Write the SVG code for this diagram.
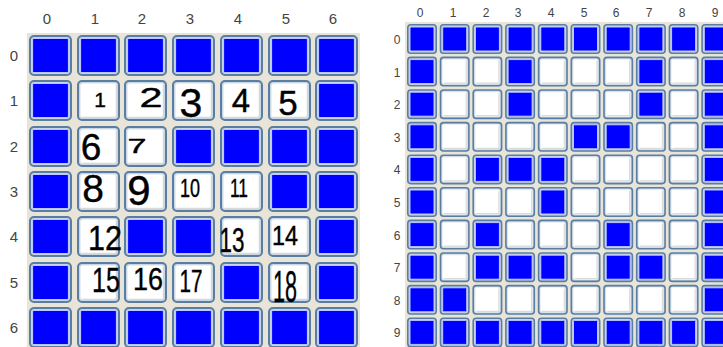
<svg xmlns="http://www.w3.org/2000/svg" xmlns:xlink="http://www.w3.org/1999/xlink" width="723" height="347" viewBox="0 0 723 347">
<style>
.lbl{font-family:"Liberation Sans",Arial,sans-serif;fill:#444;text-anchor:middle}
.ll{font-size:15px}
.rl{font-size:12px}
.hw{font-family:"Liberation Sans",Arial,sans-serif;fill:#000;stroke:#000;stroke-width:0.4;text-anchor:middle}
</style>
<defs>
<g id="LW">
<rect x="1" y="1" width="41" height="39" rx="4" fill="#c9d6e3" stroke="#5a7ea2" stroke-width="2"/>
<rect x="3.5" y="3.5" width="36" height="34" rx="2" fill="#ffffff" stroke="#e9eef3" stroke-width="1"/>
<path d="M5 37.5H39.5V5" fill="none" stroke="#d8d8d8" stroke-width="1.5"/>
</g>
<g id="LB">
<rect x="1" y="1" width="41" height="39" rx="4" fill="#c9d6e3" stroke="#5a7ea2" stroke-width="2"/>
<rect x="3.5" y="3.5" width="36" height="34" rx="1" fill="#0000ff" stroke="#b8c4ff" stroke-width="1.2"/>
</g>
<g id="RW">
<rect x="0.8" y="0.8" width="28.4" height="28.4" rx="3" fill="#c9d6e3" stroke="#5a7ea2" stroke-width="1.6"/>
<rect x="2.8" y="2.8" width="24.4" height="24.4" rx="1.5" fill="#ffffff" stroke="#eef2f6" stroke-width="0.8"/>
<path d="M4 26.5H26.5V4" fill="none" stroke="#dadada" stroke-width="1.2"/>
</g>
<g id="RB">
<rect x="0.8" y="0.8" width="28.4" height="28.4" rx="3" fill="#c9d6e3" stroke="#5a7ea2" stroke-width="1.6"/>
<rect x="3" y="3" width="24" height="24" rx="1" fill="#0000ff" stroke="#b8c4ff" stroke-width="1"/>
</g>
</defs>
<rect width="723" height="347" fill="#ffffff"/>
<rect x="27" y="33" width="333" height="314" fill="#e8e5d8"/>
<rect x="405" y="22" width="318" height="325" fill="#e8e5d8"/>

<g id="left-col-labels" class="lbl ll">
<text x="47" y="24">0</text><text x="95" y="24">1</text><text x="142" y="24">2</text><text x="190" y="24">3</text><text x="238" y="24">4</text><text x="286" y="24">5</text><text x="333" y="24">6</text>
</g>
<g id="left-row-labels" class="lbl ll">
<text x="14" y="61">0</text><text x="14" y="106">1</text><text x="14" y="152">2</text><text x="14" y="197">3</text><text x="14" y="242">4</text><text x="14" y="288">5</text><text x="14" y="333">6</text>
</g>

<g id="left-grid">
<g id="L0-0"><use href="#LB" x="29" y="35"/></g>
<g id="L0-1"><use href="#LB" x="77" y="35"/></g>
<g id="L0-2"><use href="#LB" x="124" y="35"/></g>
<g id="L0-3"><use href="#LB" x="172" y="35"/></g>
<g id="L0-4"><use href="#LB" x="220" y="35"/></g>
<g id="L0-5"><use href="#LB" x="268" y="35"/></g>
<g id="L0-6"><use href="#LB" x="315" y="35"/></g>

<g id="L1-0"><use href="#LB" x="29" y="80"/></g>
<g id="L1-1"><use href="#LW" x="77" y="80"/><text class="hw" x="100" y="107" font-size="21">1</text></g>
<g id="L1-2"><use href="#LW" x="124" y="80"/><text class="hw" x="151" y="107" font-size="27" textLength="23" lengthAdjust="spacingAndGlyphs">2</text></g>
<g id="L1-3"><use href="#LW" x="172" y="80"/><text class="hw" x="191" y="117" font-size="41">3</text></g>
<g id="L1-4"><use href="#LW" x="220" y="80"/><text class="hw" x="241" y="112" font-size="33">4</text></g>
<g id="L1-5"><use href="#LW" x="268" y="80"/><text class="hw" x="288" y="115" font-size="35">5</text></g>
<g id="L1-6"><use href="#LB" x="315" y="80"/></g>

<g id="L2-0"><use href="#LB" x="29" y="126"/></g>
<g id="L2-1"><use href="#LW" x="77" y="126"/><text class="hw" x="91" y="160" font-size="37">6</text></g>
<g id="L2-2"><use href="#LW" x="124" y="126"/><text class="hw" x="137" y="153" font-size="21" textLength="19" lengthAdjust="spacingAndGlyphs">7</text></g>
<g id="L2-3"><use href="#LB" x="172" y="126"/></g>
<g id="L2-4"><use href="#LB" x="220" y="126"/></g>
<g id="L2-5"><use href="#LB" x="268" y="126"/></g>
<g id="L2-6"><use href="#LB" x="315" y="126"/></g>

<g id="L3-0"><use href="#LB" x="29" y="171"/></g>
<g id="L3-1"><use href="#LW" x="77" y="171"/><text class="hw" x="93" y="202" font-size="39">8</text></g>
<g id="L3-2"><use href="#LW" x="124" y="171"/><text class="hw" x="139" y="205" font-size="42">9</text></g>
<g id="L3-3"><use href="#LW" x="172" y="171"/><text class="hw" x="190" y="197" font-size="26" textLength="20" lengthAdjust="spacingAndGlyphs">10</text></g>
<g id="L3-4"><use href="#LW" x="220" y="171"/><text class="hw" x="239" y="197" font-size="26" textLength="18" lengthAdjust="spacingAndGlyphs">11</text></g>
<g id="L3-5"><use href="#LB" x="268" y="171"/></g>
<g id="L3-6"><use href="#LB" x="315" y="171"/></g>

<g id="L4-0"><use href="#LB" x="29" y="216"/></g>
<g id="L4-1"><use href="#LW" x="77" y="216"/></g>
<g id="L4-2"><use href="#LB" x="124" y="216"/></g>
<g id="L4-3"><use href="#LB" x="172" y="216"/></g>
<g id="L4-4"><use href="#LW" x="220" y="216"/></g>
<g id="L4-5"><use href="#LW" x="268" y="216"/><text class="hw" x="285" y="245" font-size="28" textLength="26" lengthAdjust="spacingAndGlyphs">14</text></g>
<g id="L4-6"><use href="#LB" x="315" y="216"/></g>

<g id="L5-0"><use href="#LB" x="29" y="262"/></g>
<g id="L5-1"><use href="#LW" x="77" y="262"/></g>
<g id="L5-2"><use href="#LW" x="124" y="262"/><text class="hw" x="148" y="290" font-size="32" textLength="30" lengthAdjust="spacingAndGlyphs">16</text></g>
<g id="L5-3"><use href="#LW" x="172" y="262"/><text class="hw" x="191" y="292" font-size="31" textLength="23" lengthAdjust="spacingAndGlyphs">17</text></g>
<g id="L5-4"><use href="#LB" x="220" y="262"/></g>
<g id="L5-5"><use href="#LW" x="268" y="262"/><text class="hw" x="285" y="302" font-size="44" textLength="24" lengthAdjust="spacingAndGlyphs">18</text></g>
<g id="L5-6"><use href="#LB" x="315" y="262"/></g>

<g id="L6-0"><use href="#LB" x="29" y="307"/></g>
<g id="L6-1"><use href="#LB" x="77" y="307"/></g>
<g id="L6-2"><use href="#LB" x="124" y="307"/></g>
<g id="L6-3"><use href="#LB" x="172" y="307"/></g>
<g id="L6-4"><use href="#LB" x="220" y="307"/></g>
<g id="L6-5"><use href="#LB" x="268" y="307"/></g>
<g id="L6-6"><use href="#LB" x="315" y="307"/></g>

<g id="L-overflow-numbers">
<text class="hw" x="105" y="250" font-size="35" textLength="34" lengthAdjust="spacingAndGlyphs">12</text>
<text class="hw" x="232" y="252" font-size="35" textLength="25" lengthAdjust="spacingAndGlyphs">13</text>
<text class="hw" x="106" y="292" font-size="35" textLength="28" lengthAdjust="spacingAndGlyphs">15</text>
</g>
</g>

<g id="right-col-labels" class="lbl rl">
<text x="420" y="17">0</text><text x="453" y="17">1</text><text x="486" y="17">2</text><text x="518" y="17">3</text><text x="551" y="17">4</text><text x="584" y="17">5</text><text x="616" y="17">6</text><text x="649" y="17">7</text><text x="682" y="17">8</text><text x="715" y="17">9</text>
</g>
<g id="right-row-labels" class="lbl rl">
<text x="397" y="44">0</text><text x="397" y="77">1</text><text x="397" y="109">2</text><text x="397" y="142">3</text><text x="397" y="174">4</text><text x="397" y="207">5</text><text x="397" y="240">6</text><text x="397" y="272">7</text><text x="397" y="305">8</text><text x="397" y="337">9</text>
</g>

<g id="right-grid">
<g id="R0-0"><use href="#RB" x="407" y="24"/></g><g id="R0-1"><use href="#RB" x="439.7" y="24"/></g><g id="R0-2"><use href="#RB" x="472.4" y="24"/></g><g id="R0-3"><use href="#RB" x="505.1" y="24"/></g><g id="R0-4"><use href="#RB" x="537.8" y="24"/></g><g id="R0-5"><use href="#RB" x="570.5" y="24"/></g><g id="R0-6"><use href="#RB" x="603.2" y="24"/></g><g id="R0-7"><use href="#RB" x="635.9" y="24"/></g><g id="R0-8"><use href="#RB" x="668.6" y="24"/></g><g id="R0-9"><use href="#RB" x="701.3" y="24"/></g>

<g id="R1-0"><use href="#RB" x="407" y="56.6"/></g><g id="R1-1"><use href="#RW" x="439.7" y="56.6"/></g><g id="R1-2"><use href="#RW" x="472.4" y="56.6"/></g><g id="R1-3"><use href="#RB" x="505.1" y="56.6"/></g><g id="R1-4"><use href="#RW" x="537.8" y="56.6"/></g><g id="R1-5"><use href="#RW" x="570.5" y="56.6"/></g><g id="R1-6"><use href="#RW" x="603.2" y="56.6"/></g><g id="R1-7"><use href="#RB" x="635.9" y="56.6"/></g><g id="R1-8"><use href="#RW" x="668.6" y="56.6"/></g><g id="R1-9"><use href="#RB" x="701.3" y="56.6"/></g>

<g id="R2-0"><use href="#RB" x="407" y="89.2"/></g><g id="R2-1"><use href="#RW" x="439.7" y="89.2"/></g><g id="R2-2"><use href="#RW" x="472.4" y="89.2"/></g><g id="R2-3"><use href="#RB" x="505.1" y="89.2"/></g><g id="R2-4"><use href="#RW" x="537.8" y="89.2"/></g><g id="R2-5"><use href="#RW" x="570.5" y="89.2"/></g><g id="R2-6"><use href="#RW" x="603.2" y="89.2"/></g><g id="R2-7"><use href="#RB" x="635.9" y="89.2"/></g><g id="R2-8"><use href="#RW" x="668.6" y="89.2"/></g><g id="R2-9"><use href="#RB" x="701.3" y="89.2"/></g>

<g id="R3-0"><use href="#RB" x="407" y="121.8"/></g><g id="R3-1"><use href="#RW" x="439.7" y="121.8"/></g><g id="R3-2"><use href="#RW" x="472.4" y="121.8"/></g><g id="R3-3"><use href="#RW" x="505.1" y="121.8"/></g><g id="R3-4"><use href="#RW" x="537.8" y="121.8"/></g><g id="R3-5"><use href="#RB" x="570.5" y="121.8"/></g><g id="R3-6"><use href="#RB" x="603.2" y="121.8"/></g><g id="R3-7"><use href="#RW" x="635.9" y="121.8"/></g><g id="R3-8"><use href="#RW" x="668.6" y="121.8"/></g><g id="R3-9"><use href="#RB" x="701.3" y="121.8"/></g>

<g id="R4-0"><use href="#RB" x="407" y="154.4"/></g><g id="R4-1"><use href="#RW" x="439.7" y="154.4"/></g><g id="R4-2"><use href="#RB" x="472.4" y="154.4"/></g><g id="R4-3"><use href="#RB" x="505.1" y="154.4"/></g><g id="R4-4"><use href="#RB" x="537.8" y="154.4"/></g><g id="R4-5"><use href="#RW" x="570.5" y="154.4"/></g><g id="R4-6"><use href="#RW" x="603.2" y="154.4"/></g><g id="R4-7"><use href="#RW" x="635.9" y="154.4"/></g><g id="R4-8"><use href="#RW" x="668.6" y="154.4"/></g><g id="R4-9"><use href="#RB" x="701.3" y="154.4"/></g>

<g id="R5-0"><use href="#RB" x="407" y="187"/></g><g id="R5-1"><use href="#RW" x="439.7" y="187"/></g><g id="R5-2"><use href="#RW" x="472.4" y="187"/></g><g id="R5-3"><use href="#RW" x="505.1" y="187"/></g><g id="R5-4"><use href="#RB" x="537.8" y="187"/></g><g id="R5-5"><use href="#RW" x="570.5" y="187"/></g><g id="R5-6"><use href="#RW" x="603.2" y="187"/></g><g id="R5-7"><use href="#RW" x="635.9" y="187"/></g><g id="R5-8"><use href="#RW" x="668.6" y="187"/></g><g id="R5-9"><use href="#RB" x="701.3" y="187"/></g>

<g id="R6-0"><use href="#RB" x="407" y="219.6"/></g><g id="R6-1"><use href="#RW" x="439.7" y="219.6"/></g><g id="R6-2"><use href="#RB" x="472.4" y="219.6"/></g><g id="R6-3"><use href="#RW" x="505.1" y="219.6"/></g><g id="R6-4"><use href="#RW" x="537.8" y="219.6"/></g><g id="R6-5"><use href="#RW" x="570.5" y="219.6"/></g><g id="R6-6"><use href="#RB" x="603.2" y="219.6"/></g><g id="R6-7"><use href="#RW" x="635.9" y="219.6"/></g><g id="R6-8"><use href="#RW" x="668.6" y="219.6"/></g><g id="R6-9"><use href="#RB" x="701.3" y="219.6"/></g>

<g id="R7-0"><use href="#RB" x="407" y="252.2"/></g><g id="R7-1"><use href="#RW" x="439.7" y="252.2"/></g><g id="R7-2"><use href="#RB" x="472.4" y="252.2"/></g><g id="R7-3"><use href="#RB" x="505.1" y="252.2"/></g><g id="R7-4"><use href="#RB" x="537.8" y="252.2"/></g><g id="R7-5"><use href="#RW" x="570.5" y="252.2"/></g><g id="R7-6"><use href="#RB" x="603.2" y="252.2"/></g><g id="R7-7"><use href="#RB" x="635.9" y="252.2"/></g><g id="R7-8"><use href="#RW" x="668.6" y="252.2"/></g><g id="R7-9"><use href="#RB" x="701.3" y="252.2"/></g>

<g id="R8-0"><use href="#RB" x="407" y="284.8"/></g><g id="R8-1"><use href="#RB" x="439.7" y="284.8"/></g><g id="R8-2"><use href="#RW" x="472.4" y="284.8"/></g><g id="R8-3"><use href="#RW" x="505.1" y="284.8"/></g><g id="R8-4"><use href="#RW" x="537.8" y="284.8"/></g><g id="R8-5"><use href="#RW" x="570.5" y="284.8"/></g><g id="R8-6"><use href="#RW" x="603.2" y="284.8"/></g><g id="R8-7"><use href="#RW" x="635.9" y="284.8"/></g><g id="R8-8"><use href="#RW" x="668.6" y="284.8"/></g><g id="R8-9"><use href="#RB" x="701.3" y="284.8"/></g>

<g id="R9-0"><use href="#RB" x="407" y="317.4"/></g><g id="R9-1"><use href="#RB" x="439.7" y="317.4"/></g><g id="R9-2"><use href="#RB" x="472.4" y="317.4"/></g><g id="R9-3"><use href="#RB" x="505.1" y="317.4"/></g><g id="R9-4"><use href="#RB" x="537.8" y="317.4"/></g><g id="R9-5"><use href="#RB" x="570.5" y="317.4"/></g><g id="R9-6"><use href="#RB" x="603.2" y="317.4"/></g><g id="R9-7"><use href="#RB" x="635.9" y="317.4"/></g><g id="R9-8"><use href="#RB" x="668.6" y="317.4"/></g><g id="R9-9"><use href="#RB" x="701.3" y="317.4"/></g>
</g>
</svg>
